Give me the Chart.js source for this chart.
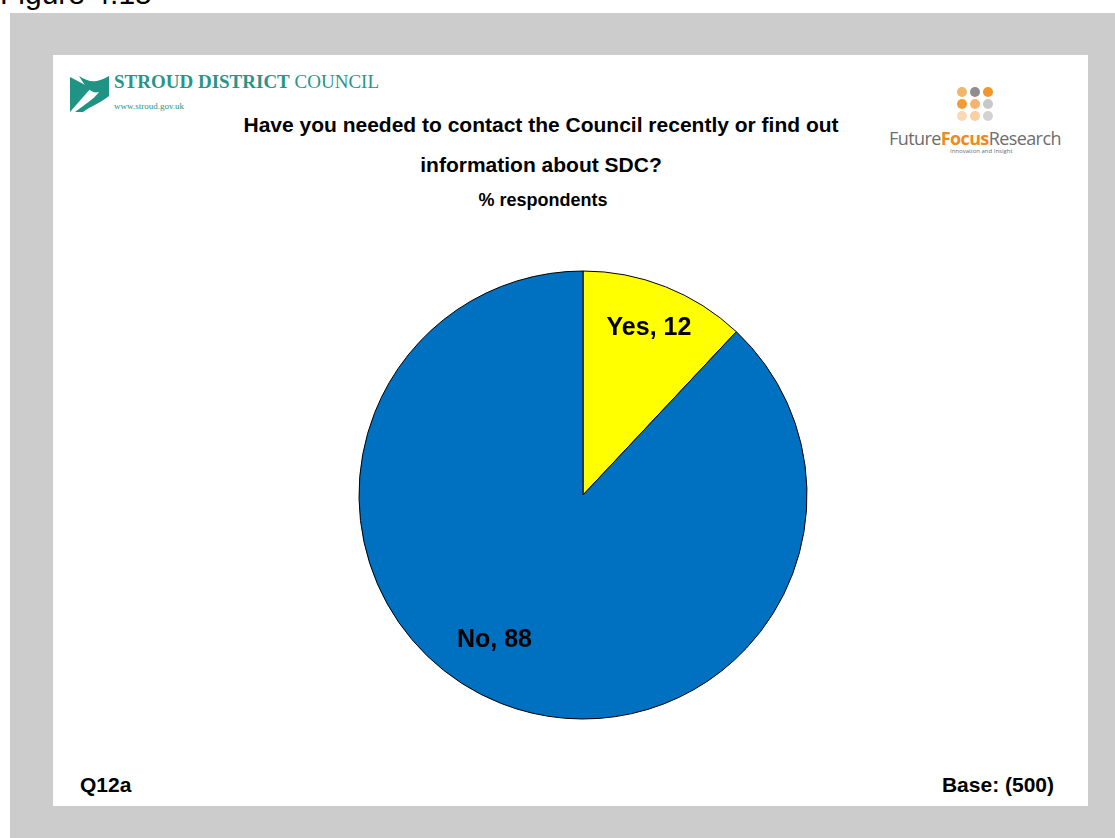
<!DOCTYPE html>
<html>
<head>
<meta charset="utf-8">
<script src="https://cdn.jsdelivr.net/npm/chart.js@4"></script>
<style>
  body { margin: 0; background: #fff; font-family: "Liberation Sans", Arial, sans-serif; overflow: hidden; }
  .fig { position: absolute; left: 0; top: -23px; font-size: 30px; color: #000; }
  .frame { position: absolute; left: 10px; top: 13px; width: 1105px; height: 825px; background: #cccccc; }
  .panel { position: absolute; left: 53px; top: 55px; width: 1035px; height: 751px; background: #fff; }
  .abs { position: absolute; white-space: nowrap; }
  .title { font-weight: bold; font-size: 21px; color: #000; transform: translateX(-50%); }
  .foot { font-weight: bold; font-size: 21px; color: #000; }
  .sdc { font-family: "Liberation Serif", "DejaVu Serif", serif; color: #2a9486; }
  .ffr { font-family: "Open Sans", "Noto Sans", sans-serif; color: #6d6d6d; }
  .dot { position: absolute; width: 10px; height: 10px; border-radius: 50%; }
  #chartBox { position: absolute; left: 333px; top: 245px; width: 500px; height: 500px; }
</style>
</head>
<body>
<div class="fig">Figure 4.15</div>
<div class="frame"></div>
<div class="panel"></div>

<!-- council logo -->
<svg class="abs" style="left:69px;top:74px" width="42" height="40" viewBox="0 0 42 40">
  <path d="M1 3 L22 14 L1 38 Z" fill="#1f9384"/>
  <path d="M10 2 C20 8 26 10 40 2 L40 22 C30 30 22 32 14 38 L6 38 C16 30 24 26 30 18 C24 20 18 16 10 2 Z" fill="#1f9384"/>
</svg>
<div class="abs sdc" style="left:114px;top:71px;font-size:19px"><b>STROUD DISTRICT</b> COUNCIL</div>
<div class="abs sdc" style="left:114px;top:101px;font-size:9px">www.stroud.gov.uk</div>

<!-- research logo -->
<div class="dot" style="left:957px;top:87px;background:#f3b56a"></div>
<div class="dot" style="left:970px;top:87px;background:#8e8e8e"></div>
<div class="dot" style="left:983px;top:87px;background:#f29628"></div>
<div class="dot" style="left:957px;top:99px;background:#f29a35"></div>
<div class="dot" style="left:970px;top:99px;background:#f5b46e"></div>
<div class="dot" style="left:983px;top:99px;background:#c8c8c8"></div>
<div class="dot" style="left:957px;top:111px;background:#fbd8b4"></div>
<div class="dot" style="left:970px;top:111px;background:#f9cfa3"></div>
<div class="dot" style="left:983px;top:111px;background:#d3d3d3"></div>
<div class="abs ffr" style="left:889px;top:126px;font-size:18px;letter-spacing:-0.6px">Future<b style="color:#f08a1c">Focus</b>Research</div>
<div class="abs ffr" style="left:950px;top:147px;font-size:6px">Innovation and Insight</div>

<div class="abs title" style="left:541px;top:113px">Have you needed to contact the Council recently or find out</div>
<div class="abs title" style="left:541px;top:153px">information about SDC?</div>
<div class="abs title" style="left:543px;top:190px;font-size:18px">% respondents</div>

<div class="abs foot" style="left:80px;top:773px">Q12a</div>
<div class="abs foot" style="right:61px;top:773px">Base: (500)</div>

<div id="chartBox"><canvas id="pieChart"></canvas></div>

<script>
// Survey answers, % respondents
const answers = ['Yes', 'No'];
const shares = [12, 88];
const sliceColours = ['#ffff00', '#0070c0'];

// Writes "Label, value" inside each slice
const sliceLabels = {
    id: 'sliceLabels',
    afterDatasetsDraw(chart, args, opts) {
        const ctx = chart.ctx;
        const arcs = chart.getDatasetMeta(0).data;
        ctx.save();
        ctx.font = 'bold 25px "Liberation Sans", Arial, sans-serif';
        ctx.fillStyle = '#000';
        ctx.textAlign = 'center';
        ctx.textBaseline = 'middle';
        arcs.forEach((arc, i) => {
            const { x, y, startAngle, endAngle, outerRadius } = arc.getProps(['x', 'y', 'startAngle', 'endAngle', 'outerRadius'], true);
            const angle = (startAngle + endAngle) / 2 + opts.turn[i];
            const r = outerRadius * opts.reach[i];
            ctx.fillText(answers[i] + ', ' + shares[i], x + Math.cos(angle) * r, y + Math.sin(angle) * r);
        });
        ctx.restore();
    }
};

const ctx = document.getElementById('pieChart').getContext('2d');
new Chart(ctx, {
    type: 'pie',
    data: {
        labels: answers,
        datasets: [{
            data: shares,
            backgroundColor: sliceColours,
            borderColor: '#000',
            borderWidth: 1
        }]
    },
    options: {
        responsive: true,
        maintainAspectRatio: false,
        animation: false,
        radius: 224,
        plugins: {
            legend: { display: false },
            tooltip: { enabled: false },
            sliceLabels: { turn: [0, 0.17], reach: [0.8, 0.76] }
        }
    },
    plugins: [sliceLabels]
});
</script>
</body>
</html>
